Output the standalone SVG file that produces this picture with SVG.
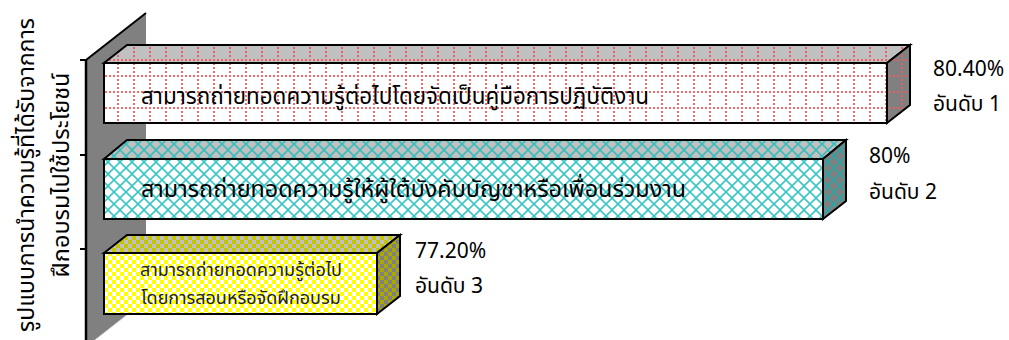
<svg xmlns="http://www.w3.org/2000/svg" width="1009" height="340" viewBox="0 0 1009 340">
<style>
.edge{stroke:#000;stroke-width:2;stroke-linejoin:miter}
.th{font-family:Tahoma,"Noto Sans Thai","Noto Sans","DejaVu Sans",sans-serif;fill:#000}
.big{font-size:23px}
.small{font-size:18px;fill:#222}
.val{font-size:21px}
</style>
<defs>
<pattern id="dotW" x="5" y="11" width="16" height="16" patternUnits="userSpaceOnUse">
<rect width="16" height="16" fill="#fff"/>
<g fill="#F36B6B"><rect x="0" y="0" width="2" height="2"/><rect x="0" y="4" width="2" height="2"/><rect x="0" y="8" width="2" height="2"/><rect x="0" y="12" width="2" height="2"/><rect x="4" y="0" width="2" height="2"/><rect x="8" y="0" width="2" height="2"/><rect x="12" y="0" width="2" height="2"/></g>
</pattern>
<pattern id="dotT" x="5" y="11" width="16" height="16" patternUnits="userSpaceOnUse">
<rect width="16" height="16" fill="#C0C0C0"/>
<g fill="#F06060"><rect x="0" y="0" width="2" height="2"/><rect x="0" y="4" width="2" height="2"/><rect x="0" y="8" width="2" height="2"/><rect x="0" y="12" width="2" height="2"/><rect x="4" y="0" width="2" height="2"/><rect x="8" y="0" width="2" height="2"/><rect x="12" y="0" width="2" height="2"/></g>
</pattern>
<pattern id="dotS" x="5" y="11" width="16" height="16" patternUnits="userSpaceOnUse">
<rect width="16" height="16" fill="#808080"/>
<g fill="#E06060"><rect x="0" y="0" width="2" height="2"/><rect x="0" y="4" width="2" height="2"/><rect x="0" y="8" width="2" height="2"/><rect x="0" y="12" width="2" height="2"/><rect x="4" y="0" width="2" height="2"/><rect x="8" y="0" width="2" height="2"/><rect x="12" y="0" width="2" height="2"/></g>
</pattern>
<pattern id="latW" width="12" height="12" patternUnits="userSpaceOnUse">
<rect width="12" height="12" fill="#fff"/>
<path d="M0 6L6 0L12 6L6 12Z" fill="none" stroke="#33C4C4" stroke-width="1.6"/>
</pattern>
<pattern id="latT" width="12" height="12" patternUnits="userSpaceOnUse">
<rect width="12" height="12" fill="#C0C0C0"/>
<path d="M0 6L6 0L12 6L6 12Z" fill="none" stroke="#33BDBD" stroke-width="1.6"/>
</pattern>
<pattern id="latS" width="12" height="12" patternUnits="userSpaceOnUse">
<rect width="12" height="12" fill="#808080"/>
<path d="M0 6L6 0L12 6L6 12Z" fill="none" stroke="#2AA5A5" stroke-width="1.6"/>
</pattern>
<pattern id="chkW" width="8" height="8" patternUnits="userSpaceOnUse">
<rect width="8" height="8" fill="#fff"/>
<rect width="4" height="4" fill="#FFFF00"/><rect x="4" y="4" width="4" height="4" fill="#FFFF00"/>
</pattern>
<pattern id="chkT" width="8" height="8" patternUnits="userSpaceOnUse">
<rect width="8" height="8" fill="#C0C0C0"/>
<rect width="4" height="4" fill="#C4C400"/><rect x="4" y="4" width="4" height="4" fill="#C4C400"/>
</pattern>
<pattern id="chkS" width="8" height="8" patternUnits="userSpaceOnUse">
<rect width="8" height="8" fill="#808080"/>
<rect width="4" height="4" fill="#A8A800"/><rect x="4" y="4" width="4" height="4" fill="#A8A800"/>
</pattern>
</defs>
<rect width="1009" height="340" fill="#fff"/>
<g id="wall">
<polygon points="86,60 146,13 146,300 86,347" fill="#808080"/>
<line x1="86" y1="60" x2="146" y2="13" class="edge"/>
<line x1="86" y1="347" x2="146" y2="300" stroke="#D8D8D8" stroke-width="1"/>
</g>
<g id="axis">
<line x1="86" y1="59" x2="86" y2="340" stroke="#000" stroke-width="2.5"/>
<line x1="80" y1="60" x2="86" y2="60" stroke="#000" stroke-width="2"/>
<line x1="80" y1="155" x2="86" y2="155" stroke="#000" stroke-width="2"/>
<line x1="80" y1="249" x2="86" y2="249" stroke="#000" stroke-width="2"/>
</g>
<g id="bar1">
<polygon points="104,63 127,45 910,45 887,63" fill="url(#dotT)" class="edge"/>
<polygon points="887,63 910,45 910,105 887,123" fill="url(#dotS)" class="edge"/>
<rect x="104" y="63" width="783" height="60" fill="url(#dotW)" class="edge"/>
<text x="141" y="104" class="th big" textLength="508" lengthAdjust="spacingAndGlyphs">สามารถถ่ายทอดความรู้ต่อไปโดยจัดเป็นคู่มือการปฏิบัติงาน</text>
</g>
<g id="bar2">
<polygon points="104,159 127,140 846,140 823,159" fill="url(#latT)" class="edge"/>
<polygon points="823,159 846,140 846,201 823,219" fill="url(#latS)" class="edge"/>
<rect x="104" y="159" width="719" height="60" fill="url(#latW)" class="edge"/>
<text x="141" y="197" class="th big" textLength="545" lengthAdjust="spacingAndGlyphs">สามารถถ่ายทอดความรู้ให้ผู้ใต้บังคับบัญชาหรือเพื่อนร่วมงาน</text>
</g>
<g id="bar3">
<polygon points="104,253 127,235 400,235 377,253" fill="url(#chkT)" class="edge"/>
<polygon points="377,253 400,235 400,296 377,314" fill="url(#chkS)" class="edge"/>
<rect x="104" y="253" width="273" height="61" fill="url(#chkW)" class="edge"/>
<text x="241" y="276" text-anchor="middle" class="th small">สามารถถ่ายทอดความรู้ต่อไป</text>
<text x="241" y="304" text-anchor="middle" class="th small">โดยการสอนหรือจัดฝึกอบรม</text>
</g>
<g id="labels">
<text x="933" y="76" class="th val">80.40%</text>
<text x="933" y="111" class="th val">อันดับ 1</text>
<text x="869" y="163" class="th val">80%</text>
<text x="869" y="199" class="th val">อันดับ 2</text>
<text x="415" y="258" class="th val">77.20%</text>
<text x="415" y="293" class="th val">อันดับ 3</text>
</g>
<g id="axis-title">
<text transform="translate(34,175) rotate(-90)" text-anchor="middle" class="th big" textLength="314" lengthAdjust="spacingAndGlyphs">รูปแบบการนำความรู้ที่ได้รับจากการ</text>
<text transform="translate(69,175) rotate(-90)" text-anchor="middle" class="th big" textLength="205" lengthAdjust="spacingAndGlyphs">ฝึกอบรมไปใช้ประโยชน์</text>
</g>
</svg>
